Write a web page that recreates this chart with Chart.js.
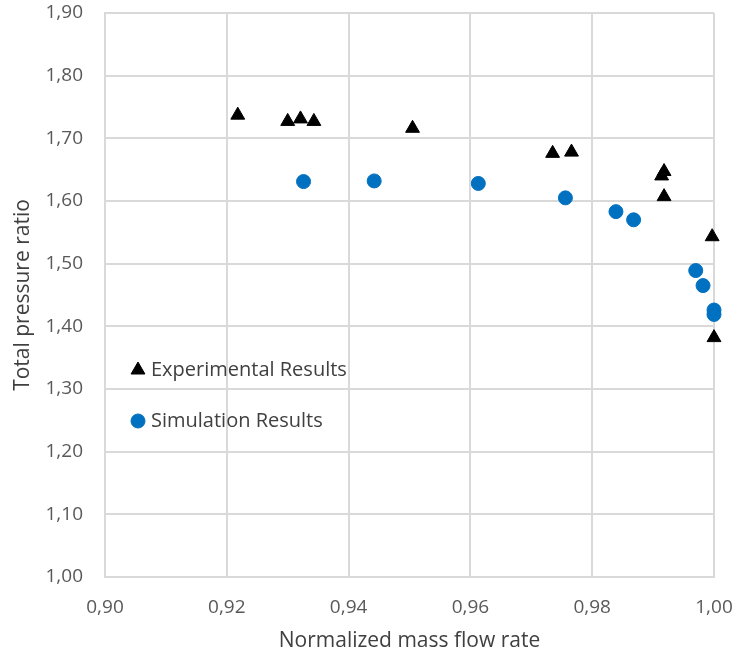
<!DOCTYPE html>
<html>
<head>
<meta charset="utf-8">
<script src="https://cdn.jsdelivr.net/npm/chart.js@4/dist/chart.umd.min.js"></script>
<style>
  html, body { margin: 0; padding: 0; background: #fff; }
  #wrap { width: 736px; height: 657px; }
</style>
</head>
<body>
<div id="wrap"><canvas id="pressureChart" width="736" height="657"></canvas></div>
<script>
// measured points (normalized mass flow rate, total pressure ratio)
const expFlow     = [0.9218, 0.9300, 0.9321, 0.9343, 0.9505, 0.9735, 0.9766, 0.9918, 0.9914, 0.9918, 0.9997, 1.0000];
const expPressure = [1.737,  1.727,  1.731,  1.727,  1.716,  1.676,  1.678,  1.647,  1.640,  1.607,  1.543,  1.382];

const simFlow     = [0.9326, 0.9442, 0.9613, 0.9756, 0.9839, 0.9868, 0.9970, 0.9982, 1.0000, 1.0000];
const simPressure = [1.631,  1.632,  1.628,  1.605,  1.583,  1.570,  1.489,  1.465,  1.426,  1.419];

const seriesNames = ['Experimental Results', 'Simulation Results'];
const xTickLabels = ['0,90', '0,92', '0,94', '0,96', '0,98', '1,00'];
const yTickLabels = ['1,00', '1,10', '1,20', '1,30', '1,40', '1,50', '1,60', '1,70', '1,80', '1,90'];

const toPoints = (xs, ys) => xs.map((x, i) => ({ x: x, y: ys[i] }));

const FONT = "'Open Sans', 'Noto Sans', sans-serif";
const GRID = '#d9d9d9';
const TEXT = '#595959';

// legend drawn inside the plot area, Excel style
const innerLegend = {
  id: 'innerLegend',
  afterDatasetsDraw(chart) {
    const ctx = chart.ctx;
    const area = chart.chartArea;
    const rows = [357, 408];
    ctx.save();
    chart.data.datasets.forEach((ds, i) => {
      const cx = area.left + 33;
      const cy = area.top + rows[i];
      ctx.fillStyle = ds.backgroundColor;
      ctx.strokeStyle = ds.borderColor;
      ctx.lineWidth = 1;
      Chart.helpers.drawPoint(ctx, { pointStyle: ds.pointStyle, radius: ds.pointRadius, borderWidth: 1 }, cx, cy);
      ctx.fillStyle = '#404040';
      ctx.font = '20px ' + FONT;
      ctx.textBaseline = 'middle';
      ctx.textAlign = 'left';
      ctx.fillText(ds.label, cx + 13, cy);
    });
    ctx.restore();
  }
};

new Chart(document.getElementById('pressureChart').getContext('2d'), {
  type: 'scatter',
  data: {
    datasets: [{
      label: seriesNames[0],
      data: toPoints(expFlow, expPressure),
      pointStyle: 'triangle',
      pointRadius: 8,
      backgroundColor: '#000000',
      borderColor: '#000000',
      borderWidth: 1,
      clip: false
    }, {
      label: seriesNames[1],
      data: toPoints(simFlow, simPressure),
      pointStyle: 'circle',
      pointRadius: 7,
      backgroundColor: '#0070c0',
      borderColor: '#0070c0',
      borderWidth: 1,
      clip: false
    }]
  },
  options: {
    responsive: false,
    animation: false,
    layout: { padding: { top: 13, right: 22, left: 0, bottom: 0 } },
    plugins: {
      legend: { display: false },
      tooltip: { enabled: false }
    },
    scales: {
      x: {
        type: 'linear',
        min: 0.90,
        max: 1.00,
        ticks: {
          stepSize: 0.02,
          color: TEXT,
          font: { family: FONT, size: 19 },
          padding: 19,
          callback: (v, i) => xTickLabels[i]
        },
        grid: { color: GRID, lineWidth: 2, drawTicks: false },
        border: { color: GRID, width: 2 },
        title: {
          display: true,
          text: 'Normalized mass flow rate',
          color: '#404040',
          font: { family: FONT, size: 21 },
          padding: { top: 10, bottom: 3 }
        },
        afterFit: (s) => { s.height = 80; s.paddingLeft = 0; s.paddingRight = 0; }
      },
      y: {
        type: 'linear',
        min: 1.00,
        max: 1.90,
        ticks: {
          stepSize: 0.10,
          color: TEXT,
          font: { family: FONT, size: 19 },
          padding: 22,
          callback: (v, i) => yTickLabels[i]
        },
        grid: { color: GRID, lineWidth: 2, drawTicks: false },
        border: { color: GRID, width: 2 },
        title: {
          display: true,
          text: 'Total pressure ratio',
          color: '#404040',
          font: { family: FONT, size: 21 },
          padding: { top: 10, bottom: 6 }
        },
        afterFit: (s) => { s.width = 105; s.paddingTop = 0; s.paddingBottom = 0; }
      }
    }
  },
  plugins: [innerLegend]
});
</script>
</body>
</html>
